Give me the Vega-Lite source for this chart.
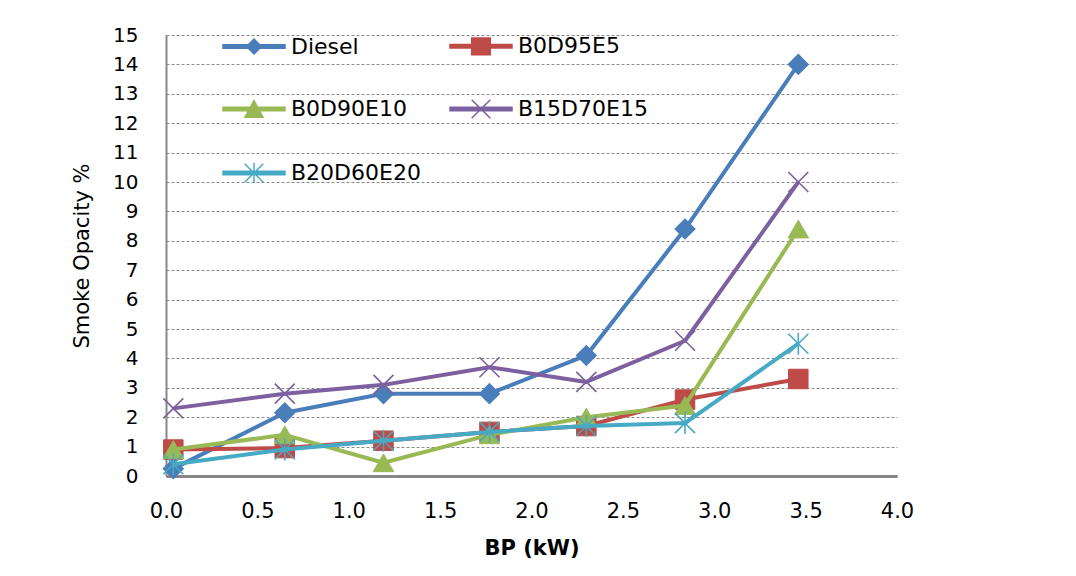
{
  "$schema": "https://vega.github.io/schema/vega-lite/v6.json",
  "width": 731,
  "height": 441,
  "autosize": {"type": "none"},
  "padding": {"left": 166, "top": 35, "right": 179, "bottom": 100},
  "background": "white",
  "config": {
    "view": {"stroke": null},
    "font": "DejaVu Sans",
    "axis": {"labelColor": "#000000", "titleColor": "#000000", "labelFont": "DejaVu Sans", "titleFont": "DejaVu Sans"}
  },
  "data": {
    "values": [
      {"series": "Diesel", "bp": 0.04, "opacity": 0.25},
      {"series": "Diesel", "bp": 0.65, "opacity": 2.15},
      {"series": "Diesel", "bp": 1.19, "opacity": 2.8},
      {"series": "Diesel", "bp": 1.77, "opacity": 2.8},
      {"series": "Diesel", "bp": 2.30, "opacity": 4.1},
      {"series": "Diesel", "bp": 2.84, "opacity": 8.4},
      {"series": "Diesel", "bp": 3.46, "opacity": 14.0},
      {"series": "B0D95E5", "bp": 0.04, "opacity": 0.9},
      {"series": "B0D95E5", "bp": 0.65, "opacity": 0.95},
      {"series": "B0D95E5", "bp": 1.19, "opacity": 1.2},
      {"series": "B0D95E5", "bp": 1.77, "opacity": 1.5},
      {"series": "B0D95E5", "bp": 2.30, "opacity": 1.7},
      {"series": "B0D95E5", "bp": 2.84, "opacity": 2.6},
      {"series": "B0D95E5", "bp": 3.46, "opacity": 3.3},
      {"series": "B0D90E10", "bp": 0.04, "opacity": 0.9},
      {"series": "B0D90E10", "bp": 0.65, "opacity": 1.4},
      {"series": "B0D90E10", "bp": 1.19, "opacity": 0.45},
      {"series": "B0D90E10", "bp": 1.77, "opacity": 1.4},
      {"series": "B0D90E10", "bp": 2.30, "opacity": 2.0},
      {"series": "B0D90E10", "bp": 2.84, "opacity": 2.4},
      {"series": "B0D90E10", "bp": 3.46, "opacity": 8.4},
      {"series": "B15D70E15", "bp": 0.04, "opacity": 2.3},
      {"series": "B15D70E15", "bp": 0.65, "opacity": 2.8},
      {"series": "B15D70E15", "bp": 1.19, "opacity": 3.1},
      {"series": "B15D70E15", "bp": 1.77, "opacity": 3.7},
      {"series": "B15D70E15", "bp": 2.30, "opacity": 3.2},
      {"series": "B15D70E15", "bp": 2.84, "opacity": 4.6},
      {"series": "B15D70E15", "bp": 3.46, "opacity": 10.0},
      {"series": "B20D60E20", "bp": 0.04, "opacity": 0.4},
      {"series": "B20D60E20", "bp": 0.65, "opacity": 0.9},
      {"series": "B20D60E20", "bp": 1.19, "opacity": 1.2},
      {"series": "B20D60E20", "bp": 1.77, "opacity": 1.5},
      {"series": "B20D60E20", "bp": 2.30, "opacity": 1.7},
      {"series": "B20D60E20", "bp": 2.84, "opacity": 1.8},
      {"series": "B20D60E20", "bp": 3.46, "opacity": 4.5}
    ]
  },
  "encoding": {
    "x": {
      "field": "bp", "type": "quantitative",
      "scale": {"domain": [0, 4], "nice": false, "zero": false},
      "axis": {
        "title": "BP (kW)", "values": [0, 0.5, 1, 1.5, 2, 2.5, 3, 3.5, 4], "format": ".1f",
        "grid": false, "ticks": false, "tickSize": 0,
        "domainColor": "#878787", "domainWidth": 3,
        "labelFontSize": 21, "labelPadding": 24, "labelFlush": false,
        "titleFontSize": 21, "titleFontWeight": "bold", "titlePadding": 16
      }
    },
    "y": {
      "field": "opacity", "type": "quantitative",
      "scale": {"domain": [0, 15], "nice": false},
      "axis": {
        "title": "Smoke Opacity %", "values": [0,1,2,3,4,5,6,7,8,9,10,11,12,13,14,15],
        "grid": true, "gridDash": [3, 2], "gridColor": "#8a8a8a", "gridWidth": 1,
        "ticks": false, "tickSize": 0,
        "domainColor": "#878787", "domainWidth": 2,
        "labelFontSize": 20, "labelPadding": 28,
        "titleFontSize": 21, "titleFontWeight": "normal", "titlePadding": 20
      }
    },
    "color": {
      "field": "series", "type": "nominal",
      "scale": {
        "domain": ["Diesel", "B0D95E5", "B0D90E10", "B15D70E15", "B20D60E20"],
        "range": ["#4A7EBB", "#BE4B48", "#98B954", "#7D60A0", "#46AAC5"]
      },
      "legend": {
        "title": null, "orient": "none", "legendX": 56, "legendY": -21,
        "direction": "horizontal",
        "columns": 2, "columnPadding": 26, "rowPadding": 19, "padding": 0,
        "symbolSize": 3844, "symbolStrokeWidth": 1.5, "labelOffset": 5,
        "labelFont": "DejaVu Sans", "labelFontSize": 22, "labelColor": "#000000", "labelLimit": 300,
        "encode": {
          "symbols": {
            "update": {
              "shape": {"signal": "datum.value === 'Diesel' ? 'M-1,-0.055L1,-0.055L1,0.055L-1,0.055ZM0,-0.24L0.24,0L0,0.24L-0.24,0Z' : datum.value === 'B0D95E5' ? 'M-1,-0.055L1,-0.055L1,0.055L-1,0.055ZM-0.3,-0.27L0.3,-0.27L0.3,0.27L-0.3,0.27Z' : datum.value === 'B0D90E10' ? 'M-1,-0.055L1,-0.055L1,0.055L-1,0.055ZM0,-0.27L0.29,0.27L-0.29,0.27Z' : datum.value === 'B15D70E15' ? 'M-1,-0.055L1,-0.055L1,0.055L-1,0.055ZM-0.3,-0.3L0.3,0.3M-0.3,0.3L0.3,-0.3' : 'M-1,-0.055L1,-0.055L1,0.055L-1,0.055ZM-0.3,-0.3L0.3,0.3M-0.3,0.3L0.3,-0.3M0,-0.33L0,0.33'"},
              "fill": {"signal": "datum.value === 'Diesel' ? '#4A7EBB' : datum.value === 'B0D95E5' ? '#BE4B48' : datum.value === 'B0D90E10' ? '#98B954' : datum.value === 'B15D70E15' ? '#7D60A0' : '#46AAC5'"},
              "stroke": {"signal": "datum.value === 'Diesel' ? '#4A7EBB' : datum.value === 'B0D95E5' ? '#BE4B48' : datum.value === 'B0D90E10' ? '#98B954' : datum.value === 'B15D70E15' ? '#7D60A0' : '#46AAC5'"},
              "size": {"value": 3844},
              "strokeWidth": {"value": 1.5},
              "opacity": {"value": 1}
            }
          }
        }
      }
    }
  },
  "layer": [
    {
      "transform": [{"filter": "datum.series === 'Diesel'"}],
      "layer": [
        {"mark": {"type": "line", "strokeWidth": 4, "strokeJoin": "round"}, "encoding": {}},
        {"mark": {"type": "point", "filled": true, "opacity": 1, "size": 380, "strokeWidth": 1.5, "shape": "diamond", "stroke": "#4A7EBB"}, "encoding": {}}
      ]
    },
    {
      "transform": [{"filter": "datum.series === 'B0D95E5'"}],
      "layer": [
        {"mark": {"type": "line", "strokeWidth": 4, "strokeJoin": "round"}, "encoding": {}},
        {"mark": {"type": "point", "filled": true, "opacity": 1, "size": 380, "strokeWidth": 1, "shape": "square", "stroke": "#BE4B48"}, "encoding": {}}
      ]
    },
    {
      "transform": [{"filter": "datum.series === 'B0D90E10'"}],
      "layer": [
        {"mark": {"type": "line", "strokeWidth": 4, "strokeJoin": "round"}, "encoding": {}},
        {"mark": {"type": "point", "filled": true, "opacity": 1, "size": 420, "strokeWidth": 1, "shape": "triangle-up", "stroke": "#98B954"}, "encoding": {}}
      ]
    },
    {
      "transform": [{"filter": "datum.series === 'B15D70E15'"}],
      "layer": [
        {"mark": {"type": "line", "strokeWidth": 4, "strokeJoin": "round"}, "encoding": {}},
        {"mark": {"type": "point", "filled": false, "opacity": 1, "size": 400, "strokeWidth": 1.6, "shape": "M-1,-1L1,1M-1,1L1,-1", "stroke": "#7D60A0"}, "encoding": {}}
      ]
    },
    {
      "transform": [{"filter": "datum.series === 'B20D60E20'"}],
      "layer": [
        {"mark": {"type": "line", "strokeWidth": 4, "strokeJoin": "round"}, "encoding": {}},
        {"mark": {"type": "point", "filled": false, "opacity": 1, "size": 400, "strokeWidth": 1.6, "shape": "M-1,-1L1,1M-1,1L1,-1M0,-1.1L0,1.1", "stroke": "#46AAC5"}, "encoding": {}}
      ]
    }
  ]
}
